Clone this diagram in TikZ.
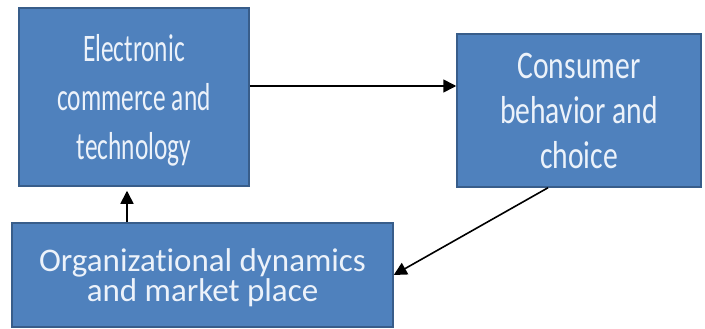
\documentclass[tikz,border=0pt]{standalone}
\usepackage{fontspec}
\usepackage{xcolor}
\usepackage{tikz}
\usetikzlibrary{positioning,arrows.meta}
\newfontfamily\ecomfont[FakeStretch=0.65, Ligatures=NoCommon]{Carlito}
\newfontfamily\consfont[FakeStretch=0.76, Ligatures=NoCommon]{Carlito}
\newfontfamily\orgfont[Ligatures=NoCommon]{Carlito}
\definecolor{boxblue}{RGB}{79,129,189}
\definecolor{boxedge}{RGB}{56,93,138}
\definecolor{boxtext}{RGB}{236,242,250}

\begin{document}
\begin{tikzpicture}[x=1pt, y=-1pt,
            block/.style={draw=boxedge, line width=1.5pt, fill=boxblue, rectangle, text=boxtext, align=center, inner sep=0pt},
            arr/.style={-{Triangle[length=13pt,width=13pt]}, line width=1.6pt, black}]
            \useasboundingbox (0,0) rectangle (705,329);
            \node (ecom) [block, minimum width=230pt, minimum height=178pt, text depth=0pt, font=\ecomfont\fontsize{39}{49}\selectfont] at (134,97) {Electronic\\commerce and\\technology};
            \node (cons) [block, minimum width=244pt, minimum height=153pt, font=\consfont\fontsize{39}{45}\selectfont] at (579,110.5) {Consumer\\behavior and\\choice};
            \node (org) [block, minimum width=381pt, minimum height=104pt, text depth=0pt, font=\orgfont\fontsize{33}{30}\selectfont] at (202.5,275) {Organizational dynamics\\and market place};

            \path[arr] ([yshift=11pt]ecom.east) edge ([yshift=11pt]ecom.east -| cons.west);
            \path[arr] ([xshift=-31pt]cons.south) edge (org.east);
            \path[arr, shorten >=4pt] ([xshift=-7pt]ecom.south |- org.north) edge ([xshift=-7pt]ecom.south);
        \end{tikzpicture}
\end{document}
